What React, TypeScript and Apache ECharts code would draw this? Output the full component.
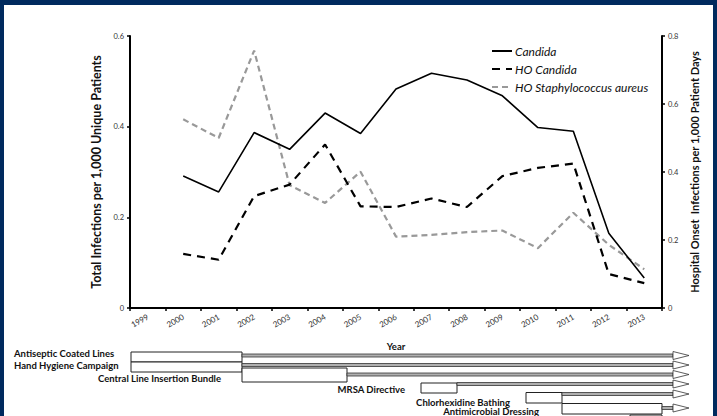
import React, { useEffect, useRef } from "react";
import * as echarts from "echarts";

const years = ["1999", "2000", "2001", "2002", "2003", "2004", "2005", "2006", "2007", "2008", "2009", "2010", "2011", "2012", "2013"];
const candida = [null, 0.291, 0.256, 0.387, 0.35, 0.43, 0.385, 0.483, 0.518, 0.503, 0.468, 0.398, 0.39, 0.165, 0.066];
const hoCandida = [null, 0.159, 0.142, 0.329, 0.363, 0.481, 0.299, 0.297, 0.322, 0.297, 0.388, 0.412, 0.425, 0.1, 0.073];
const hoStaph = [null, 0.555, 0.5, 0.757, 0.361, 0.309, 0.401, 0.21, 0.215, 0.223, 0.228, 0.176, 0.28, 0.186, 0.114];
const seriesNames = ["Candida", "HO Candida", "HO Staphylococcus aureus"];
const leftAxisName = "Total Infections per 1,000 Unique Patients";
const rightAxisName = "Hospital Onset  Infections per 1,000 Patient Days";
const xAxisName = "Year";
const interventions = [
  "Antiseptic Coated Lines",
  "Hand Hygiene Campaign",
  "Central Line Insertion Bundle",
  "MRSA Directive",
  "Chlorhexidine Bathing",
  "Antimicrobial Dressing",
];

// layout of the intervention timeline (pixels)
const labelLayout = [
  { x: 14, y: 353, align: "left" },
  { x: 14, y: 365, align: "left" },
  { x: 221, y: 378, align: "right" },
  { x: 405, y: 389.5, align: "right" },
  { x: 510, y: 402, align: "right" },
  { x: 539, y: 411.5, align: "right" },
];
const boxLayout = [
  { x1: 131, y1: 352, x2: 242, y2: 362 },
  { x1: 131, y1: 362, x2: 242, y2: 372 },
  { x1: 242, y1: 368, x2: 347, y2: 382 },
  { x1: 421, y1: 383, x2: 457, y2: 393 },
  { x1: 526, y1: 392.5, x2: 562, y2: 403 },
  { x1: 562, y1: 403.5, x2: 662, y2: 414 },
  { x1: 630, y1: 415, x2: 662, y2: 425 },
];
const arrowLayout = [
  { x: 242, y: 355.5 },
  { x: 242, y: 365 },
  { x: 347, y: 374.5 },
  { x: 457, y: 384 },
  { x: 562, y: 394 },
  { x: 662, y: 408 },
];

const FONT = "Lato, sans-serif";
const NAVY = "#002a5e";

export default function App() {
  const ref = useRef<HTMLDivElement>(null);
  useEffect(() => {
    document.body.style.margin = "0";
    const chart = echarts.init(ref.current!, null, { renderer: "svg" });
    const tipX = 673;
    const headX = 689;
    const graphics: any[] = [];
    interventions.forEach((name, i) => {
      const l = labelLayout[i];
      graphics.push({
        type: "text",
        x: l.x,
        y: l.y,
        style: {
          text: name,
          font: `bold 9.5px ${FONT}`,
          fill: "#111",
          textAlign: l.align,
          textVerticalAlign: "middle",
        },
        z: 10,
      });
    });
    boxLayout.forEach((b) => {
      graphics.push({
        type: "rect",
        shape: { x: b.x1, y: b.y1, width: b.x2 - b.x1, height: b.y2 - b.y1 },
        style: { fill: "#fff", stroke: "#222", lineWidth: 1 },
        z: 5,
      });
    });
    arrowLayout.forEach((a) => {
      graphics.push({
        type: "rect",
        shape: { x: a.x, y: a.y - 1.5, width: tipX - a.x, height: 3 },
        style: { fill: "#b0b0b0", stroke: "#333", lineWidth: 0.8 },
        z: 6,
      });
      graphics.push({
        type: "polygon",
        shape: { points: [[tipX, a.y - 4], [headX, a.y], [tipX, a.y + 4]] },
        style: { fill: "#fff", stroke: "#333", lineWidth: 0.8 },
        z: 7,
      });
    });
    // navy frame
    graphics.push(
      { type: "rect", shape: { x: 0, y: 0, width: 717, height: 5 }, style: { fill: NAVY }, z: 20 },
      { type: "rect", shape: { x: 0, y: 0, width: 4, height: 416 }, style: { fill: NAVY }, z: 20 },
      { type: "rect", shape: { x: 713, y: 0, width: 4, height: 416 }, style: { fill: NAVY }, z: 20 }
    );

    const axisCommon = {
      axisLine: { show: true, lineStyle: { color: "#000", width: 2 } },
      axisTick: { show: true, length: 3, lineStyle: { color: "#000", width: 1.5 } },
      splitLine: { show: false },
    };

    chart.setOption({
      animation: false,
      backgroundColor: "#fff",
      textStyle: { fontFamily: FONT },
      grid: { left: 130, right: 55, top: 36, bottom: 108, containLabel: false },
      legend: {
        orient: "vertical",
        left: 486,
        top: 40,
        itemWidth: 20,
        itemHeight: 8,
        itemGap: 6,
        data: seriesNames,
        itemStyle: { opacity: 0 },
        textStyle: { fontStyle: "italic", fontSize: 12, color: "#111", fontFamily: FONT, padding: [0, 0, 0, -2] },
      },
      xAxis: {
        type: "category",
        data: years,
        boundaryGap: true,
        ...axisCommon,
        axisTick: { show: true, interval: 0, length: 3, lineStyle: { color: "#000", width: 1.5 } },
        axisLabel: { rotate: 30, fontSize: 8, color: "#333", margin: 8, interval: 0, fontFamily: FONT },
        name: xAxisName,
        nameLocation: "middle",
        nameGap: 33,
        nameTextStyle: { fontWeight: "bold", fontSize: 9.5, color: "#111", fontFamily: FONT },
      },
      yAxis: [
        {
          type: "value",
          position: "left",
          min: 0,
          max: 0.6,
          interval: 0.2,
          ...axisCommon,
          axisLabel: { fontSize: 7.5, color: "#333", margin: 6, fontFamily: FONT },
          name: leftAxisName,
          nameLocation: "middle",
          nameRotate: 90,
          nameGap: 24,
          nameTextStyle: { fontWeight: "bold", fontSize: 12.5, color: "#111", fontFamily: FONT },
        },
        {
          type: "value",
          position: "right",
          min: 0,
          max: 0.8,
          interval: 0.2,
          ...axisCommon,
          axisLabel: { fontSize: 7.5, color: "#333", margin: 6, fontFamily: FONT },
          name: rightAxisName,
          nameLocation: "middle",
          nameRotate: 90,
          nameGap: 26,
          nameTextStyle: { fontWeight: "bold", fontSize: 11, color: "#111", fontFamily: FONT },
        },
      ],
      series: [
        {
          name: seriesNames[0],
          type: "line",
          yAxisIndex: 0,
          data: candida,
          symbol: "none",
          lineStyle: { color: "#000", width: 1.6, type: "solid" },
          itemStyle: { color: "#000" },
          z: 3,
        },
        {
          name: seriesNames[1],
          type: "line",
          yAxisIndex: 1,
          data: hoCandida,
          symbol: "none",
          lineStyle: { color: "#000", width: 2.2, type: [8, 6] },
          itemStyle: { color: "#000" },
          z: 3,
        },
        {
          name: seriesNames[2],
          type: "line",
          yAxisIndex: 1,
          data: hoStaph,
          symbol: "none",
          lineStyle: { color: "#999", width: 2.2, type: [6, 4] },
          itemStyle: { color: "#999" },
          z: 2,
        },
      ],
      graphic: graphics,
    });
    return () => chart.dispose();
  }, []);
  return <div ref={ref} style={{ width: 717, height: 416 }} />;
}
